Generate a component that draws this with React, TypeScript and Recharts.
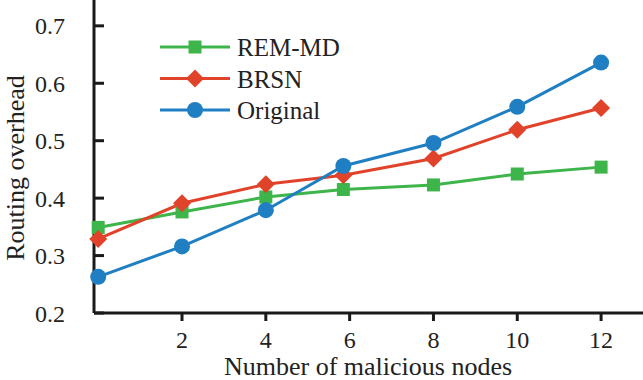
import { LineChart, Line, XAxis, YAxis } from "recharts";

const nodes = [0, 2, 4, 5.85, 8, 10, 12];
const remMd = [0.349, 0.376, 0.402, 0.415, 0.423, 0.442, 0.454];
const brsn = [0.329, 0.391, 0.424, 0.44, 0.469, 0.519, 0.557];
const original = [0.263, 0.316, 0.379, 0.456, 0.496, 0.559, 0.636];

const xTicks = [2, 4, 6, 8, 10, 12];
const yTicks = [0.2, 0.3, 0.4, 0.5, 0.6, 0.7];

const data = nodes.map((n, i) => ({
  n,
  remMd: remMd[i],
  brsn: brsn[i],
  original: original[i],
}));

const GREEN = "#3db54a";
const RED = "#e0432a";
const BLUE = "#1f7fc2";
const FONT = "'Liberation Serif', 'Times New Roman', serif";

const series = [
  { key: "remMd", name: "REM-MD", color: GREEN, shape: "square" },
  { key: "brsn", name: "BRSN", color: RED, shape: "diamond" },
  { key: "original", name: "Original", color: BLUE, shape: "circle" },
];

function Marker({ cx, cy, shape, color }: any) {
  if (cx == null || cy == null) return null;
  if (shape === "square")
    return <rect x={cx - 6.5} y={cy - 6.5} width={13} height={13} fill={color} />;
  if (shape === "diamond")
    return (
      <polygon
        points={`${cx},${cy - 9} ${cx + 9},${cy} ${cx},${cy + 9} ${cx - 9},${cy}`}
        fill={color}
      />
    );
  return <circle cx={cx} cy={cy} r={8} fill={color} />;
}

function LegendBox() {
  return (
    <svg
      width={220}
      height={100}
      style={{ position: "absolute", left: 150, top: 30 }}
    >
      {series.map((s, i) => {
        const y = 17 + i * 31.5;
        return (
          <g key={s.key}>
            <line x1={10} x2={80} y1={y} y2={y} stroke={s.color} strokeWidth={3} />
            <Marker cx={45} cy={y} shape={s.shape} color={s.color} />
            <text
              x={87}
              y={y + 9}
              fontFamily={FONT}
              fontSize={25}
              fill="#222"
            >
              {s.name}
            </text>
          </g>
        );
      })}
    </svg>
  );
}

export default function App() {
  return (
    <div style={{ position: "absolute", left: 0, top: 0, width: 643, height: 380, background: "#fff" }}>
      <LineChart
        width={643}
        height={380}
        data={data}
        margin={{ top: 0, right: 0, left: 0, bottom: 0 }}
      >
        <XAxis
          dataKey="n"
          type="number"
          domain={[-0.1, 13]}
          ticks={xTicks}
          height={67}
          tickSize={8}
          tickMargin={10}
          stroke="#1a1a1a"
          strokeWidth={3}
          tick={{ fill: "#222", fontSize: 24, fontFamily: FONT }}
          label={{
            content: () => (
              <text
                x={368}
                y={375}
                textAnchor="middle"
                fontFamily={FONT}
                fontSize={26}
                fill="#222"
              >
                Number of malicious nodes
              </text>
            ),
          }}
        />
        <YAxis
          type="number"
          domain={[0.2, 0.745]}
          ticks={yTicks}
          width={94}
          tickSize={-10}
          tickMargin={39}
          stroke="#1a1a1a"
          strokeWidth={3}
          tickFormatter={(v: number) => v.toFixed(1)}
          tick={{ fill: "#222", fontSize: 24, fontFamily: FONT }}
          label={{
            content: () => (
              <text
                x={24}
                y={168}
                transform="rotate(-90 24 168)"
                textAnchor="middle"
                fontFamily={FONT}
                fontSize={26}
                fill="#222"
              >
                Routing overhead
              </text>
            ),
          }}
        />
        {series.map((s) => (
          <Line
            key={s.key}
            dataKey={s.key}
            name={s.name}
            stroke={s.color}
            strokeWidth={3}
            isAnimationActive={false}
            dot={(p: any) => (
              <Marker key={`${s.key}-${p.index}`} cx={p.cx} cy={p.cy} shape={s.shape} color={s.color} />
            )}
            activeDot={false}
          />
        ))}
      </LineChart>
      <LegendBox />
    </div>
  );
}
